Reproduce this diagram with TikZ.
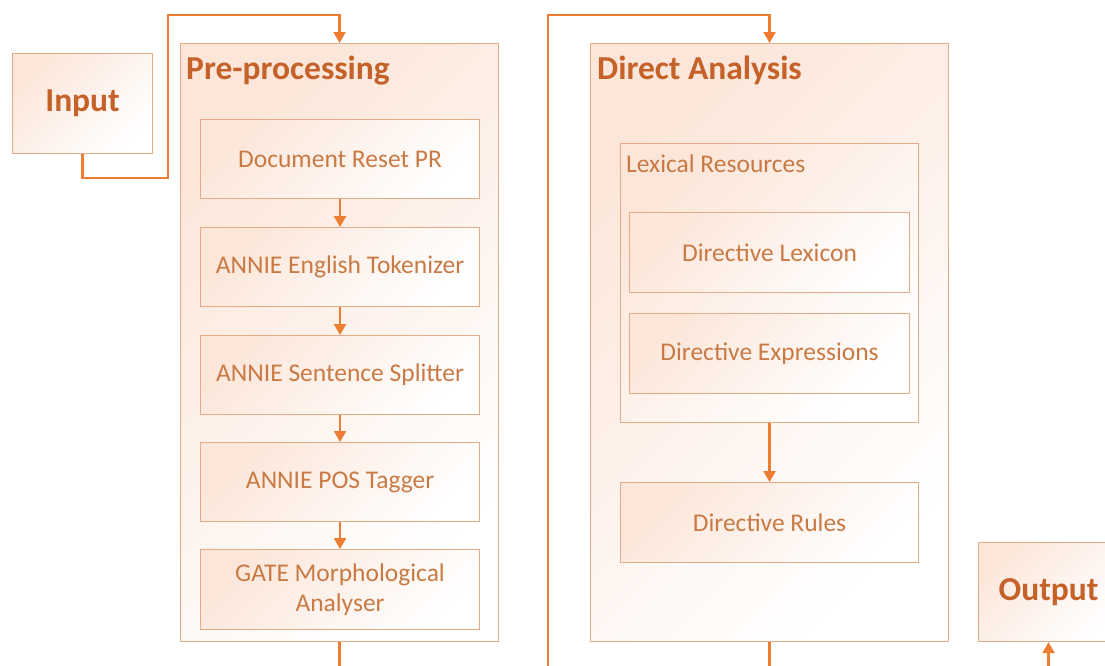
\documentclass[tikz,border=0pt]{standalone}
\usepackage{fontspec}
\setmainfont{Carlito}
\usetikzlibrary{arrows.meta}
\definecolor{conncol}{HTML}{ED7D31}
\definecolor{boxline}{HTML}{E6AC88}
\definecolor{peach}{HTML}{FCE6D9}
\definecolor{txtcol}{HTML}{C97A44}
\definecolor{titlecol}{HTML}{C4622A}
\tikzset{
  box/.style={draw=boxline, line width=1.1pt, top color=peach, bottom color=white, shading angle=45,
    anchor=north west, inner sep=0pt, font=\fontsize{25.5}{30}\selectfont, text=txtcol, align=center},
  bigbox/.style={box, font=\fontsize{33.5}{38}\selectfont\bfseries, text=titlecol},
  title/.style={anchor=base west, inner sep=0pt, font=\fontsize{33.5}{38}\selectfont\bfseries, text=titlecol},
  subtitle/.style={anchor=base west, inner sep=0pt, font=\fontsize{25.5}{30}\selectfont, text=txtcol},
  conn/.style={draw=conncol, line width=2.2pt, -{Triangle[width=12pt,length=11pt]}}
}
\begin{document}
\begin{tikzpicture}[x=1pt,y=-1pt]
\useasboundingbox (0,0) rectangle (1105,665);
\clip (0,0) rectangle (1105,665);
\fill[white] (0,0) rectangle (1105,665);

% Input / Output
\node[bigbox, minimum width=140pt, minimum height=100pt] (in) at (12,53) {Input};
\node[bigbox, minimum width=140pt, minimum height=99pt] (out) at (978,542) {Output};

% containers
\node[box, minimum width=318pt, minimum height=598pt] (pre) at (180,43) {};
\node[box, minimum width=358pt, minimum height=598pt] (da) at (590,43) {};
\node[title] (pret) at (186,79) {Pre-processing};
\node[title] (dat) at (597,79) {Direct Analysis};

% pre-processing steps
\node[box, minimum width=279pt, minimum height=79pt] (s1) at (200,119) {Document Reset PR};
\node[box, minimum width=279pt, minimum height=79pt] (s2) at (200,227) {ANNIE English Tokenizer};
\node[box, minimum width=279pt, minimum height=79pt] (s3) at (200,335) {ANNIE Sentence Splitter};
\node[box, minimum width=279pt, minimum height=79pt] (s4) at (200,442) {ANNIE POS Tagger};
\node[box, minimum width=279pt, minimum height=80pt] (s5) at (200,549) {GATE Morphological\\Analyser};

% direct analysis
\node[box, minimum width=298pt, minimum height=279pt] (lex) at (620,143) {};
\node[subtitle] (lext) at (626,172) {Lexical Resources};
\node[box, minimum width=280pt, minimum height=80pt] (dl) at (629,212) {Directive Lexicon};
\node[box, minimum width=280pt, minimum height=80pt] (de) at (629,313) {Directive Expressions};
\node[box, minimum width=298pt, minimum height=80pt] (dr) at (620,482) {Directive Rules};

% connectors
\coordinate (c1) at (168,178);
\coordinate (c2) at (168,15);
\coordinate (c3) at (548,700);
\coordinate (c4) at (548,15);
\coordinate (c5) at (900,700);

\draw[conn] (in.south) |- (c1) -- (c2) -| (pre.north);
\draw[conn] (s1) -- (s2);
\draw[conn] (s2) -- (s3);
\draw[conn] (s3) -- (s4);
\draw[conn] (s4) -- (s5);
\draw[conn] (pre.south) |- (c3) -- (c4) -| (da.north);
\draw[conn] (lex) -- (dr);
\draw[conn] (da.south) |- (c5) -| (out.south);
\end{tikzpicture}
\end{document}
